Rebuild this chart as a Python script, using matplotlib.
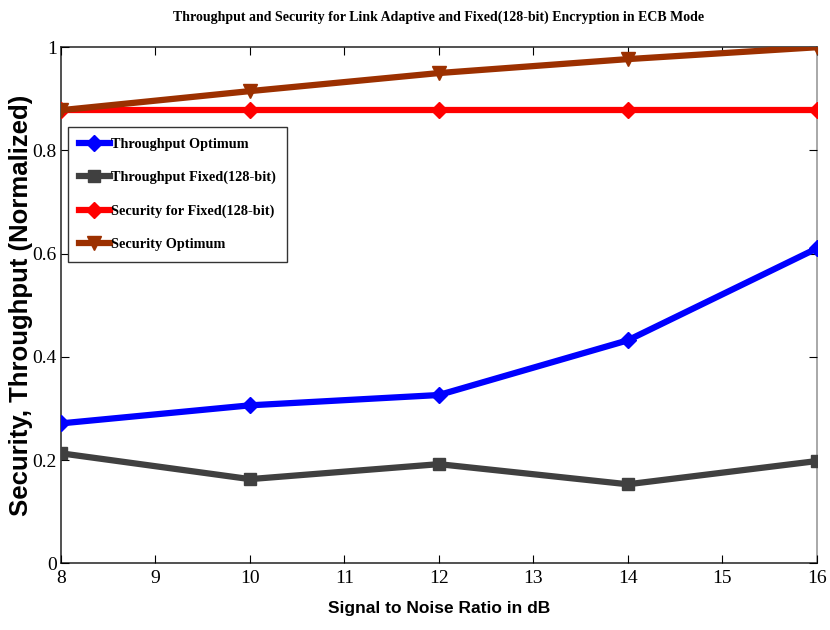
import matplotlib
matplotlib.use('Agg')
import matplotlib.pyplot as plt

snr = [8, 10, 12, 14, 16]
throughput_opt = [0.271, 0.306, 0.326, 0.432, 0.610]
throughput_fixed = [0.213, 0.163, 0.192, 0.153, 0.198]
security_fixed = [0.878, 0.878, 0.878, 0.878, 0.878]
security_opt = [0.878, 0.915, 0.950, 0.977, 1.0]

labels = ['Throughput Optimum', 'Throughput Fixed(128-bit)',
          'Security for Fixed(128-bit)', 'Security Optimum']

serif = ['Liberation Serif', 'DejaVu Serif']
sans = ['Liberation Sans', 'DejaVu Sans']

fig = plt.figure(figsize=(8.3, 6.3), dpi=100)
ax = fig.add_axes([0.0735, 0.106, 0.9105, 0.819])

ax.plot(snr, throughput_opt, color='#0000ff', lw=4.5, marker='D', ms=8, label=labels[0])
ax.plot(snr, throughput_fixed, color='#404040', lw=4.5, marker='s', ms=9, label=labels[1])
ax.plot(snr, security_fixed, color='#ff0000', lw=4.5, marker='D', ms=8, label=labels[2])
ax.plot(snr, security_opt, color='#9c3000', lw=4.5, marker='v', ms=10, label=labels[3])

ax.set_xlim(8, 16)
ax.set_ylim(0, 1)
ax.set_xticks(range(8, 17))
ax.set_yticks([0, 0.2, 0.4, 0.6, 0.8, 1])
ax.set_yticklabels(['0', '0.2', '0.4', '0.6', '0.8', '1'])
ax.tick_params(direction='in', top=True, right=True, length=6, width=0.8,
               labelsize=14, pad=3)
ax.tick_params(axis='x', pad=5)
for lab in ax.get_xticklabels() + ax.get_yticklabels():
    lab.set_family(serif)
for s in ['left', 'bottom', 'top']:
    ax.spines[s].set_color('#333333')
ax.spines['right'].set_color('#999999')
for s in ax.spines.values():
    s.set_linewidth(1.2)
    s.set_zorder(0.5)

ax.set_title('Throughput and Security for Link Adaptive and Fixed(128-bit) Encryption in ECB Mode',
             family=serif, fontweight='bold', fontsize=10, pad=19)
ax.set_xlabel('Signal to Noise Ratio in dB', family=sans,
              fontweight='bold', fontsize=12.5, labelpad=10)
ax.set_ylabel('Security, Throughput (Normalized)', family=sans,
              fontweight='bold', fontsize=18.5)
ax.yaxis.set_label_coords(-0.037, 0.5)

leg = ax.legend(loc='upper left', bbox_to_anchor=(0.009, 0.845), borderaxespad=0,
                prop={'family': serif, 'weight': 'bold', 'size': 10.3},
                fancybox=False, edgecolor='#333333', framealpha=1,
                handlelength=2.2, handletextpad=0.1, labelspacing=1.4,
                borderpad=0.75)
leg.get_frame().set_linewidth(1.0)

fig.savefig('out.png', dpi=100)
